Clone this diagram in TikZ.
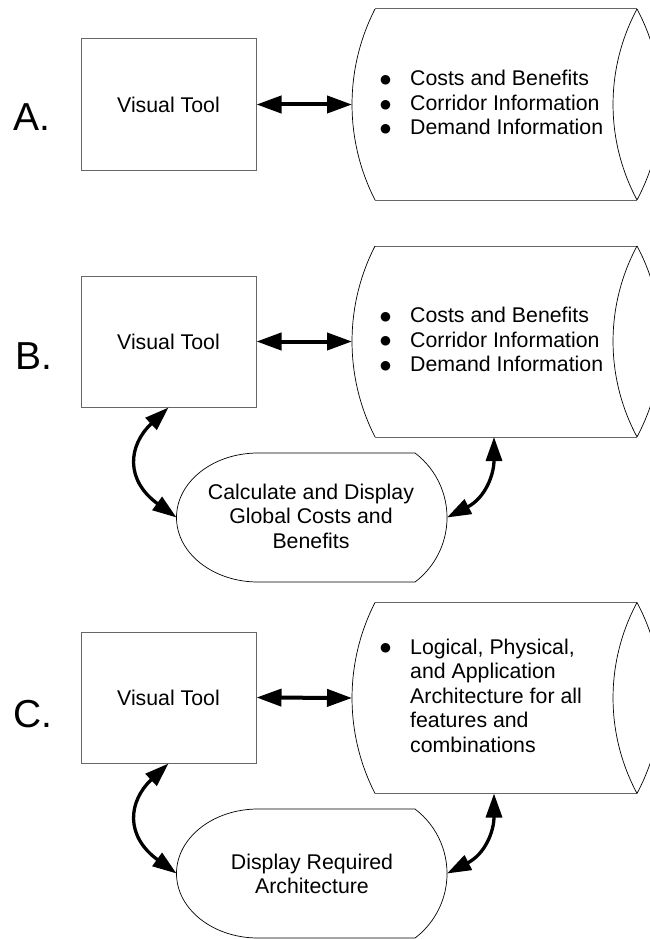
\documentclass[tikz,border=0pt]{standalone}
\usepackage{fontspec}
\setmainfont{Liberation Sans}
\newfontfamily\symfont{DejaVu Sans}
\usetikzlibrary{arrows.meta}

% round list bullet
\newcommand\listdot{{\symfont\fontsize{12.5}{12.5}\selectfont\raisebox{2.3pt}{\hspace{1pt}●}}}

\tikzset{
  bodytext/.style={font=\fontsize{21.3}{24.5}\selectfont, inner sep=0pt},
  tag/.style={font=\fontsize{39}{40}\selectfont, anchor=base west, inner sep=0pt},
  toolbox/.style={draw=black!60, line width=1pt, minimum width=175pt,
    minimum height=131pt, inner sep=0pt, font=\fontsize{21.3}{24.5}\selectfont},
  edge/.style={draw=black!60, line width=1pt},
  rim/.style={draw=black, line width=0.7pt},
  link/.style={line width=4pt,
    {Triangle[length=25pt,width=17pt]}-{Triangle[length=25pt,width=17pt]}},
  bentlink/.style={line width=3.3pt,
    {Triangle[length=24pt,width=16pt]}-{Triangle[length=24pt,width=16pt]}},
  % horizontal storage drum, right end cut by the page edge
  drum/.pic={
    \draw[edge] (375,-9) -- (637,-9);
    \draw[edge] (375,-200) -- (637,-200);
    \draw[rim] (375,-9) arc[start angle=152.93, end angle=207.07, radius=209.8];
    \draw[rim] (637,-9) arc[start angle=151.8, end angle=208.2, radius=202];
    \draw[rim] (637,-9) arc[start angle=28.2, end angle=-28.2, radius=202];
    \coordinate (-w) at (352,-104.5);
    \coordinate (-s) at (494,-200);
  },
  % display symbol: elliptic left side, arc on the right
  screen/.pic={
    \draw[rim] (-53.5,64.5) -- (103.5,64.5)
      arc[start angle=52.8, end angle=-52.8, radius=81]
      -- (-53.5,-64.5)
      arc[start angle=270, end angle=90, x radius=81.5, y radius=64.5];
    \coordinate (-w) at (-135,0);
    \coordinate (-e) at (135.5,0);
  },
}

\begin{document}
\begin{tikzpicture}[x=1pt,y=1pt]
\useasboundingbox (0,0) rectangle (650,-939);
\clip (0,0) rectangle (650,-939);
\fill[white] (0,0) rectangle (650,-939);

% ---------- A ----------
\node[tag] (labA) at (13,-131) {A.};
\node[toolbox] (boxA) at (168.5,-104.5) {Visual Tool};
\pic (drA) at (0,0) {drum};
\node[bodytext, anchor=base west] (txA) at (379,-86)
  {\begin{tabular}[t]{@{}p{31pt}@{}l@{}}
   \listdot & Costs and Benefits\\
   \listdot & Corridor Information\\
   \listdot & Demand Information
   \end{tabular}};
\draw[link] (boxA.east) -- (drA-w);

% ---------- B ----------
\node[tag] (labB) at (15,-369) {B.};
\node[toolbox] (boxB) at (168.5,-341.5) {Visual Tool};
\pic (drB) at (0,-237) {drum};
\node[bodytext, anchor=base west] (txB) at (379,-322.5)
  {\begin{tabular}[t]{@{}p{31pt}@{}l@{}}
   \listdot & Costs and Benefits\\
   \listdot & Corridor Information\\
   \listdot & Demand Information
   \end{tabular}};
\pic (ovB) at (311.5,-517.5) {screen};
\node[bodytext, anchor=base] (calcTxt) at (311,-499)
  {\parbox[t]{260pt}{\centering Calculate and Display\\ Global Costs and\\ Benefits}};
\draw[link] (boxB.east) -- (drB-w);
\draw[bentlink] (boxB.south) .. controls +(-40.5,-38) and +(-51.5,37.5) .. (ovB-w);
\draw[bentlink] (drB-s) .. controls +(0,-38) and +(38,19.5) .. (ovB-e);

% ---------- C ----------
\node[tag] (labC) at (13,-727) {C.};
\node[toolbox] (boxC) at (168.5,-697.5) {Visual Tool};
\pic (drC) at (0,-593.5) {drum};
\node[bodytext, anchor=base west] (txC) at (379,-654)
  {\begin{tabular}[t]{@{}p{31pt}@{}l@{}}
   \listdot & Logical, Physical,\\
            & and Application\\
            & Architecture for all\\
            & features and\\
            & combinations
   \end{tabular}};
\pic (ovC) at (311.5,-873.5) {screen};
\node[bodytext, anchor=base] (archTxt) at (312,-869)
  {\parbox[t]{260pt}{\centering Display Required\\ Architecture}};
\draw[link] (boxC.east) -- (drC-w);
\draw[bentlink] (boxC.south) .. controls +(-40.5,-38) and +(-51.5,37.5) .. (ovC-w);
\draw[bentlink] (drC-s) .. controls +(0,-38) and +(38,19.5) .. (ovC-e);
\end{tikzpicture}
\end{document}
